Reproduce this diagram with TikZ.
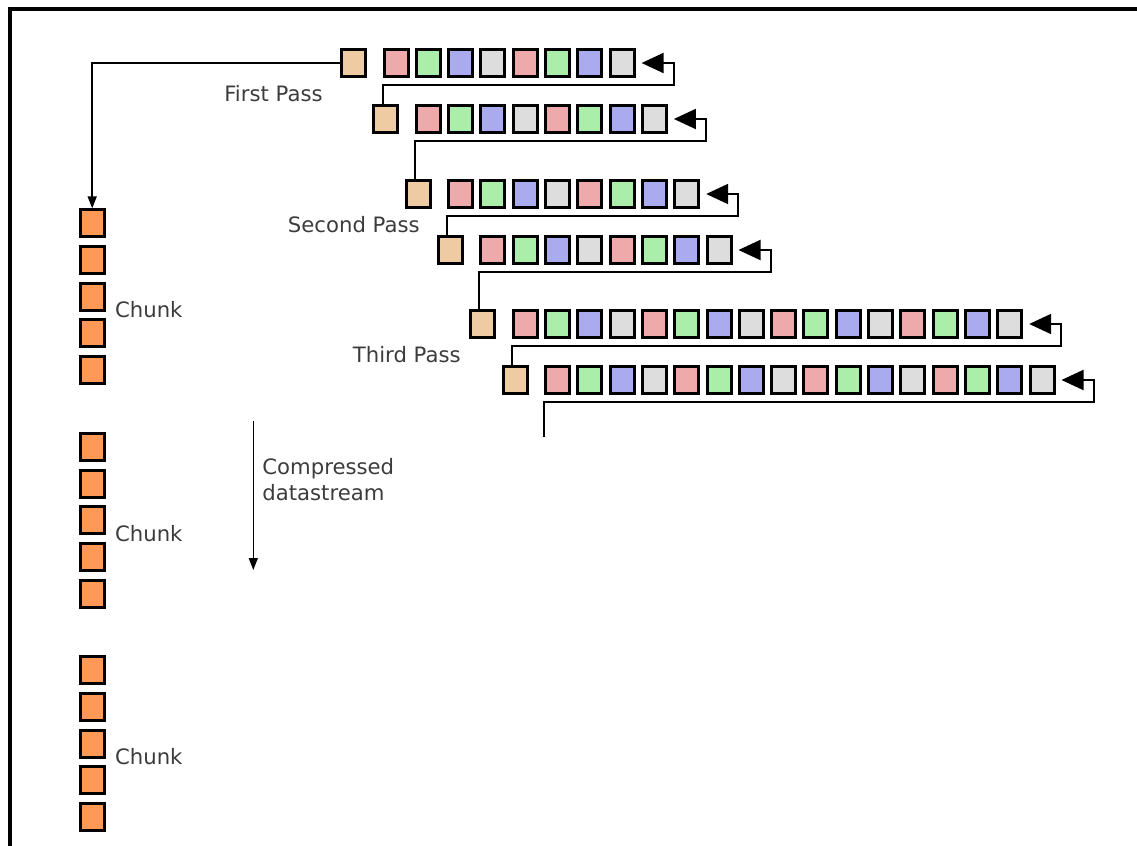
\documentclass[tikz,border=0pt]{standalone}
\usepackage{fontspec}
\usepackage{tikz}
\usetikzlibrary{arrows.meta,calc,positioning}
\newfontfamily\labelfont{DejaVu Sans}
\definecolor{PixTan}{HTML}{EFCBA3}
\definecolor{Pix0}{HTML}{EEAAAA}
\definecolor{Pix1}{HTML}{AAEEAA}
\definecolor{Pix2}{HTML}{AAAAEE}
\definecolor{Pix3}{HTML}{DDDDDD}
\definecolor{ChunkOrange}{HTML}{FF9955}
\definecolor{LabelGray}{HTML}{3C3C3C}

\begin{document}
\begin{tikzpicture}[x=0.5pt,y=-0.5pt,
    cell/.style={draw=black,line width=1.5pt,minimum width=12pt,minimum height=13.5pt,inner sep=0pt},
    lbl/.style={font=\labelfont\fontsize{10.6}{13.3}\selectfont,text=LabelGray,inner sep=0pt},
    link/.style={line width=1pt,-{Triangle[length=11pt,width=10pt]}},
    feed/.style={line width=0.8pt,-{Triangle[length=6pt,width=4.5pt]}},
    frame/.style={line width=2pt}
  ]
    \useasboundingbox (0,0) rectangle (1137,846);
    \draw[frame] (1137,9) -- (10,9) -- (10,846);

    % pass rows: filter byte, then the scanline pixels
    \foreach \r/\x/\y/\k in {1/353.5/63/8, 2/385.8/119/8, 3/418.1/194/8,
                             4/450.4/250/8, 5/482.7/324/16, 6/515/380/16} {
      \node[cell,fill=PixTan] (t\r) at (\x,\y) {};
      \foreach \i [evaluate=\i as \m using {int(mod(\i-1,4))}] in {1,...,\k}
        \node[cell,fill=Pix\m] (p\r-\i) at (\x+42.5+32.3*\i-32.3,\y) {};
    }

    % each scanline wraps back into the next filter byte
    \foreach \r/\k in {1/8,2/8,3/8,4/8,5/16} {
      \pgfmathtruncatemacro\n{\r+1}
      \draw[link] (p\r-1.west |- t\n.north) -- ($(p\r-1.south west)+(0,7)$)
        -| ($(p\r-\k.east)+(38,0)$) -- ($(p\r-\k.east)+(6,0)$);
    }
    \coordinate (tail) at ($(p6-1.south west)+(0,42)$);
    \draw[link] (tail) -- ($(p6-1.south west)+(0,7)$)
      -| ($(p6-16.east)+(38,0)$) -- ($(p6-16.east)+(6,0)$);

    \node[lbl,anchor=east] (first) at (323,94) {First Pass};
    \node[lbl,anchor=east] (second) at (420,225) {Second Pass};
    \node[lbl,anchor=east] (third) at (461,355) {Third Pass};

    % output chunks
    \foreach \g in {1,2,3} {
      \foreach \j in {1,...,5}
        \node[cell,fill=ChunkOrange] (c\g-\j) at (92.2,223.3+223.5*\g-223.5+36.7*\j-36.7) {};
      \node[lbl,anchor=west] (chunk\g) at ($(c\g-3.east)+(9,13)$) {Chunk};
    }
    \draw[feed] (t1.west) -| (c1-1.north);

    \coordinate (ds in) at (253.3,421);
    \coordinate (ds out) at (253.3,570);
    \draw[feed] (ds in) -- (ds out);
    \node[lbl,anchor=west,align=left] (stream) at (262,479.5) {Compressed\\datastream};
\end{tikzpicture}
\end{document}
